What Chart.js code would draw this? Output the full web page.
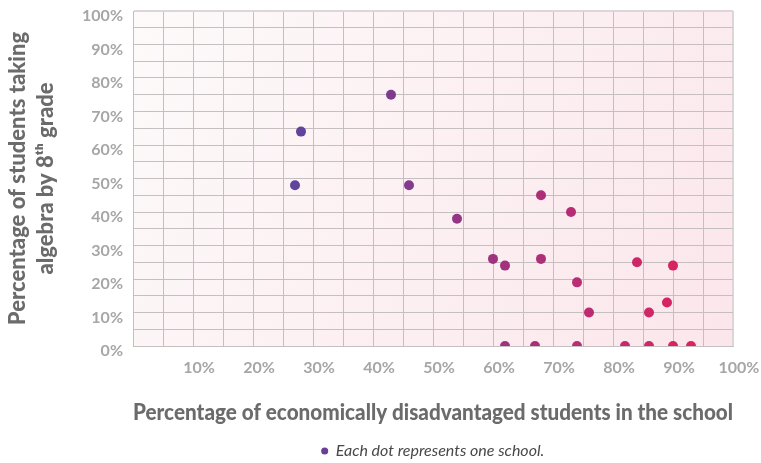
<!DOCTYPE html>
<html>
<head>
<meta charset="utf-8">
<script src="https://cdn.jsdelivr.net/npm/chart.js@4"></script>
<style>
  html, body { margin: 0; padding: 0; background: #fff; }
  #wrap { width: 761px; height: 463px; }
</style>
</head>
<body>
<div id="wrap"><canvas id="schoolChart" width="761" height="463"></canvas></div>
<script>
// one entry per school
const disadvantagedPct = [28, 27, 43, 46, 68, 73, 54, 60, 62, 68, 84, 90, 74, 89, 76, 86, 62, 67, 74, 82, 86, 90, 93];
const algebraPct       = [64, 48, 75, 48, 45, 40, 38, 26, 24, 26, 25, 24, 19, 13, 10, 10,  0,  0,  0,  0,  0,  0,  0];

const axisMin = 0, axisMax = 100, gridStep = 5, labelStep = 10;
const xTitle = 'Percentage of economically disadvantaged students in the school';
const yTitle = ['Percentage of students taking', 'algebra by 8\u1d57\u02b0 grade'];
const legendText = 'Each dot represents one school.';

const points = disadvantagedPct.map((x, i) => ({ x, y: algebraPct[i] }));

// dots shade from purple (left) to crimson (right)
const fromRgb = [90, 60, 154], toRgb = [219, 26, 90];
function dotColor(c) {
  const x = c.raw ? c.raw.x : 27;
  let t = (x - 27) / (93 - 27);
  t = Math.max(0, Math.min(1, t));
  const m = fromRgb.map((v, k) => Math.round(v + (toRgb[k] - v) * t));
  return `rgba(${m[0]},${m[1]},${m[2]},0.96)`;
}

const plotBackground = {
  id: 'plotBackground',
  beforeDraw(chart) {
    const { ctx, chartArea: a } = chart;
    const g = ctx.createLinearGradient(a.left, a.top, a.right, a.bottom);
    g.addColorStop(0, '#fdfafa');
    g.addColorStop(1, '#fbe6eb');
    ctx.save();
    ctx.fillStyle = g;
    ctx.fillRect(a.left, a.top, a.right - a.left, a.bottom - a.top);
    ctx.restore();
  }
};

// keep the plot box where the reference has it
function noScalePadding(s) {
  s.paddingTop = 0; s.paddingBottom = 0; s.paddingLeft = 0; s.paddingRight = 0;
}

const tickFont = { family: 'Lato', weight: 'bold', size: 16 };
const titleFont = { family: 'Lato', weight: '900', size: 23 };
const gridColor = c => (c.tick && c.tick.value === 100 ? '#dcd6d8' : '#c6bfc2');
const gridWidth = c => (c.tick && c.tick.value === 100 ? 2 : 1);

new Chart(document.getElementById('schoolChart'), {
  type: 'scatter',
  data: {
    datasets: [{
      label: legendText,
      data: points,
      backgroundColor: dotColor,
      borderWidth: 0,
      pointRadius: 5,
      pointHoverRadius: 5
    }]
  },
  options: {
    responsive: false,
    animation: false,
    events: [],
    layout: { padding: { left: 0, right: 28, top: 11, bottom: -6 } },
    scales: {
      x: {
        type: 'linear',
        min: axisMin, max: axisMax,
        afterFit: s => { s.height = 96; noScalePadding(s); },
        border: { color: '#c6bfc2', width: 1 },
        grid: { color: gridColor, lineWidth: gridWidth, drawTicks: false },
        ticks: {
          stepSize: gridStep,
          autoSkip: false,
          maxRotation: 0,
          padding: 12,
          labelOffset: 6,
          color: '#a6a6a6',
          font: tickFont,
          callback: v => (v % labelStep === 0 && v > 0 ? v + '%' : '')
        },
        title: {
          display: true,
          text: xTitle,
          color: '#6b6b6b',
          font: titleFont,
          padding: { top: 0, bottom: 16 }
        }
      },
      y: {
        type: 'linear',
        min: axisMin, max: axisMax,
        afterFit: s => { s.width = 133; noScalePadding(s); },
        border: { color: '#c6bfc2', width: 1 },
        grid: { color: gridColor, lineWidth: gridWidth, drawTicks: false },
        ticks: {
          stepSize: gridStep,
          autoSkip: false,
          padding: 10,
          labelOffset: 5,
          color: '#a6a6a6',
          font: tickFont,
          callback: v => (v % labelStep === 0 ? v + '%' : '')
        },
        title: {
          display: true,
          text: yTitle,
          color: '#6b6b6b',
          font: { family: 'Lato', weight: '900', size: 22, lineHeight: 1.27 },
          padding: { top: 4, bottom: 0 }
        }
      }
    },
    plugins: {
      tooltip: { enabled: false },
      legend: {
        position: 'bottom',
        fullSize: false,
        labels: {
          usePointStyle: true,
          boxWidth: 6,
          boxHeight: 5,
          padding: 1,
          color: '#484848',
          font: { family: 'Lato', style: 'italic', size: 16 },
          generateLabels: () => [{
            text: legendText,
            fillStyle: '#6a3f97',
            strokeStyle: '#6a3f97',
            lineWidth: 0,
            pointStyle: 'circle',
            fontColor: '#484848'
          }]
        }
      }
    }
  },
  plugins: [plotBackground]
});
</script>
</body>
</html>
